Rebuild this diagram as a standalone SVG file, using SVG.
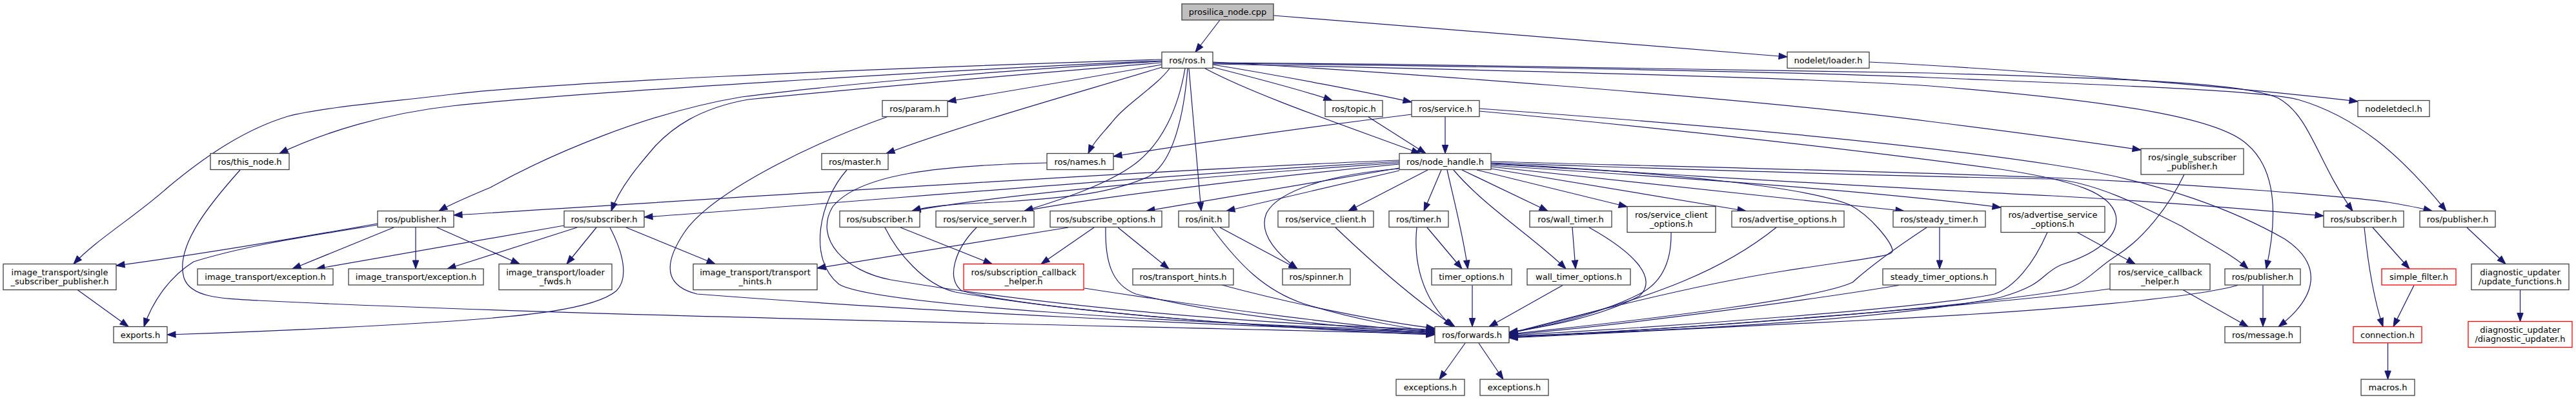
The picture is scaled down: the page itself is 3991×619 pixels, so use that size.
<svg xmlns="http://www.w3.org/2000/svg" width="3991" height="619" viewBox="0 0 3991 619">
<style>
.n rect{fill:#ffffff;stroke:#404040;stroke-width:1.3}
.n.red rect{stroke:#ff0000}
.n.root rect{fill:#bfbfbf}
text{font-family:"DejaVu Sans","Liberation Sans",sans-serif;font-size:13px;text-anchor:middle;fill:#000000}
#edges path{fill:none;stroke:#191970;stroke-width:1.2;marker-end:url(#a)}
</style>
<defs>
<marker id="a" markerUnits="userSpaceOnUse" markerWidth="14" markerHeight="10" viewBox="0 0 14 10" refX="13" refY="4.7" orient="auto" overflow="visible"><path d="M0,0 L13,4.7 L0,9.4 z" fill="#191970" stroke="#191970" stroke-width="1"/></marker>
</defs>
<rect width="3991" height="619" fill="#ffffff"/>
<g id="edges">
<path d="M1890,31 L1852,80.5"/>
<path d="M1973,24 C2200,42 2550,70 2769,88"/>
<path d="M2896,96 C3100,106 3450,133 3653,157"/>
<path d="M1800,94 C1500,107 900,142 700,164 C600,175 500,205 433,237.5"/>
<path d="M1800,92 C1300,108 850,128 700,146 C600,158 500,166 446,180 C380,200 320,240 260,290 C210,335 150,370 114,408.5"/>
<path d="M1800,95 C1600,105 1300,130 1149,150 C1000,175 850,240 760,290 C725,305 700,315 680,326.5"/>
<path d="M1800,97 C1650,110 1400,130 1159,154 C1080,168 1040,200 1016,225 C990,255 960,290 947,326.5"/>
<path d="M1800,100 C1700,118 1550,143 1468,157"/>
<path d="M1800,104 C1700,135 1500,190 1373,237.5"/>
<path d="M1812,106 C1790,135 1745,160 1722,190 C1705,210 1693,222 1686,237.5"/>
<path d="M1836,106 C1825,170 1800,220 1763,250 C1720,285 1640,310 1587,326.5"/>
<path d="M1840,106 C1835,170 1820,250 1780,273 C1720,300 1650,306 1560,312 C1480,316 1440,318 1413,326.5"/>
<path d="M1842,106 L1861,326.5"/>
<path d="M1867,106 C1950,150 2100,200 2200,237.5"/>
<path d="M1879,104 C1950,122 2020,140 2064,155.5"/>
<path d="M1879,100 C1990,118 2120,143 2187,158"/>
<path d="M1879,96 C2100,108 2700,150 2990,188 C3150,208 3250,222 3317,232"/>
<path d="M1879,97 C2300,100 2800,108 2990,113 C3300,122 3480,128 3530,152 C3580,180 3590,250 3645,326.5"/>
<path d="M1879,98 C2300,102 2800,112 2990,120 C3300,133 3500,140 3560,154 C3650,180 3720,240 3790,326.5"/>
<path d="M1879,99 C2300,108 2800,120 2990,133 C3300,158 3440,185 3481,223 C3525,260 3530,330 3511,416"/>
<path d="M2187,177 C2000,200 1850,222 1725,242"/>
<path d="M2239,181 L2239,237.5"/>
<path d="M2120,181 L2209,237.5"/>
<path d="M2292,168 C2600,190 2950,220 3180,255 C3350,280 3470,330 3540,370 C3600,410 3590,460 3530,505.5"/>
<path d="M2292,172 C2600,200 2900,235 3100,262 C3220,280 3270,300 3278,333 C3285,370 3240,395 3193,410 C3160,425 3170,440 3100,460 C2900,500 2500,515 2338,520"/>
<path d="M2168,248 C1800,262 1000,315 703,333"/>
<path d="M2168,250 C1800,270 1300,315 998,336"/>
<path d="M2168,252 C1900,270 1550,300 1413,326.5"/>
<path d="M2168,254 C1950,275 1700,305 1587,326.5"/>
<path d="M2168,260 L1776,326.5"/>
<path d="M2168,264 L1900,326.5"/>
<path d="M2168,261 C2060,270 1980,295 1962,330 C1950,360 1975,390 2010,416"/>
<path d="M2212,263 L2089,326.5"/>
<path d="M2233,263 L2206,326.5"/>
<path d="M2242,263 C2255,320 2268,370 2274,416"/>
<path d="M2252,263 C2300,320 2380,370 2426,416"/>
<path d="M2265,263 L2398,326.5"/>
<path d="M2288,263 L2521,320"/>
<path d="M2310,261 L2705,326.5"/>
<path d="M2310,258 L2950,326.5"/>
<path d="M2310,253 C2600,268 2800,290 2866,317 C2900,335 2930,375 2932,387 C2935,397 2900,398 2760,420 C2600,445 2400,500 2338,516"/>
<path d="M2310,250 C2600,258 2900,264 3180,275 C3400,285 3650,305 3700,313 C3730,318 3750,322 3768,326.5"/>
<path d="M2310,252 C2600,262 2900,272 3180,277 C3250,282 3330,325 3380,350 C3420,375 3460,395 3483,416"/>
<path d="M2310,254 C2600,270 2900,290 3180,303 C3350,312 3500,325 3600,334"/>
<path d="M2310,256 C2600,275 2900,295 3100,321"/>
<path d="M372,263 C330,310 270,380 285,430 C295,460 340,462 400,465 C900,490 1800,505 2223,517"/>
<path d="M1374,181 C1250,225 1100,300 1060,360 C1020,420 1040,445 1080,455 C1400,480 1900,505 2223,514"/>
<path d="M1312,263 C1270,310 1250,400 1300,440 C1350,470 1800,500 2223,512"/>
<path d="M1622,252 C1450,256 1330,270 1290,320 C1260,370 1310,420 1380,433 C1600,470 1900,500 2223,510"/>
<path d="M1371,352 C1390,390 1430,440 1480,452 C1700,490 2000,508 2223,516"/>
<path d="M1513,352 C1480,385 1465,430 1490,450 C1600,480 2000,510 2223,518"/>
<path d="M1713,352 C1712,400 1720,440 1760,455 C1900,490 2100,508 2223,516"/>
<path d="M1680,446 C1900,480 2100,505 2223,514"/>
<path d="M1893,441 C2000,470 2150,500 2223,508"/>
<path d="M1877,352 C1920,410 1960,450 2020,470 C2100,495 2180,508 2223,513"/>
<path d="M2069,352 C2130,410 2200,470 2254,505.5"/>
<path d="M2195,352 C2190,400 2200,460 2250,505.5"/>
<path d="M2281,441.5 L2281,505.5"/>
<path d="M2421,441.5 L2307,505.5"/>
<path d="M2462,352 C2530,390 2570,430 2540,458 C2480,490 2400,505 2338,514"/>
<path d="M2589,359.5 C2590,410 2570,440 2540,455 C2480,485 2400,505 2338,515"/>
<path d="M2752,352 C2680,410 2580,460 2338,516"/>
<path d="M2985,352 C2950,375 2900,410 2870,437 C2820,460 2600,490 2338,517"/>
<path d="M2942,441.5 C2800,465 2500,505 2338,518"/>
<path d="M3172,359.5 C3150,410 3120,445 3090,455 C3000,475 2600,505 2338,519"/>
<path d="M3384,270 C3360,320 3320,370 3280,395 C3240,420 3230,445 3180,452 C3000,480 2600,510 2338,521"/>
<path d="M3269,447 C3100,470 2600,510 2338,522"/>
<path d="M3467,441.5 C3400,460 3200,480 2900,495 C2600,510 2400,520 2338,523"/>
<path d="M2270,531 L2230,587"/>
<path d="M2291,531 L2329,587"/>
<path d="M585,346 C450,370 300,395 180,411"/>
<path d="M585,348 C480,365 380,380 300,405 C260,430 235,470 223,505.5"/>
<path d="M610,352 L453,416"/>
<path d="M644,352 L644,416"/>
<path d="M677,352 L805,408.5"/>
<path d="M874,349 L490,416"/>
<path d="M894,352 L693,416"/>
<path d="M924,352 L878,408.5"/>
<path d="M970,352 L1108,408.5"/>
<path d="M945,352 C965,390 975,430 955,450 C920,480 800,490 700,497 C500,510 350,515 259,518"/>
<path d="M120,448.5 L199,505.5"/>
<path d="M1655,352 L1266,415"/>
<path d="M1695,352 L1613,408.5"/>
<path d="M1732,352 L1811,416"/>
<path d="M1395,352 L1537,408.5"/>
<path d="M1890,352 L2010,416"/>
<path d="M2211,352 L2265,416"/>
<path d="M2436,352 L2441,416"/>
<path d="M3005,352 L3005,416"/>
<path d="M3218,359.5 L3308,408.5"/>
<path d="M3382,448.5 L3483,505.5"/>
<path d="M3506,441.5 L3506,505.5"/>
<path d="M3663,352 C3670,420 3680,470 3692,505.5"/>
<path d="M3676,352 L3733,416"/>
<path d="M3740,441.5 L3708,505.5"/>
<path d="M3699.5,531 L3699.5,587"/>
<path d="M3822,352 L3882,408.5"/>
<path d="M3904.5,448.5 L3904.5,497.5"/>
</g>
<g id="n1" class="n root"><rect x="1831" y="6" width="142" height="25"/><text x="1902" y="23">prosilica_node.cpp</text></g>
<g id="n2" class="n"><rect x="1800" y="80.5" width="79" height="25"/><text x="1839.5" y="97.5">ros/ros.h</text></g>
<g id="n3" class="n"><rect x="2769" y="80.5" width="127" height="25"/><text x="2832.5" y="97.5">nodelet/loader.h</text></g>
<g id="n4" class="n"><rect x="1367" y="155.5" width="101" height="25"/><text x="1417.5" y="172.5">ros/param.h</text></g>
<g id="n5" class="n"><rect x="2053" y="155.5" width="89" height="25"/><text x="2097.5" y="172.5">ros/topic.h</text></g>
<g id="n6" class="n"><rect x="2187" y="155.5" width="105" height="25"/><text x="2239.5" y="172.5">ros/service.h</text></g>
<g id="n7" class="n"><rect x="3653" y="155.5" width="111" height="25"/><text x="3708.5" y="172.5">nodeletdecl.h</text></g>
<g id="n8" class="n"><rect x="326" y="237.5" width="122" height="25"/><text x="387" y="254.5">ros/this_node.h</text></g>
<g id="n9" class="n"><rect x="1273" y="237.5" width="103" height="25"/><text x="1324.5" y="254.5">ros/master.h</text></g>
<g id="n10" class="n"><rect x="1622" y="237.5" width="103" height="25"/><text x="1673.5" y="254.5">ros/names.h</text></g>
<g id="n11" class="n"><rect x="2168" y="237.5" width="142" height="25"/><text x="2239" y="254.5">ros/node_handle.h</text></g>
<g id="n12" class="n"><rect x="3317" y="230" width="159" height="40"/><text x="3396.5" y="247.5">ros/single_subscriber</text><text x="3396.5" y="261.5">_publisher.h</text></g>
<g id="n13" class="n"><rect x="585" y="326.5" width="118" height="25"/><text x="644" y="343.5">ros/publisher.h</text></g>
<g id="n14" class="n"><rect x="874" y="326.5" width="124" height="25"/><text x="936" y="343.5">ros/subscriber.h</text></g>
<g id="n15" class="n"><rect x="1301" y="326.5" width="124" height="25"/><text x="1363" y="343.5">ros/subscriber.h</text></g>
<g id="n16" class="n"><rect x="1450" y="326.5" width="152" height="25"/><text x="1526" y="343.5">ros/service_server.h</text></g>
<g id="n17" class="n"><rect x="1627" y="326.5" width="173" height="25"/><text x="1713.5" y="343.5">ros/subscribe_options.h</text></g>
<g id="n18" class="n"><rect x="1826" y="326.5" width="78" height="25"/><text x="1865" y="343.5">ros/init.h</text></g>
<g id="n19" class="n"><rect x="1980" y="326.5" width="148" height="25"/><text x="2054" y="343.5">ros/service_client.h</text></g>
<g id="n20" class="n"><rect x="2152" y="326.5" width="92" height="25"/><text x="2198" y="343.5">ros/timer.h</text></g>
<g id="n21" class="n"><rect x="2370" y="326.5" width="127" height="25"/><text x="2433.5" y="343.5">ros/wall_timer.h</text></g>
<g id="n22" class="n"><rect x="2521" y="319.5" width="137" height="40"/><text x="2589.5" y="337">ros/service_client</text><text x="2589.5" y="351">_options.h</text></g>
<g id="n23" class="n"><rect x="2683" y="326.5" width="174" height="25"/><text x="2770" y="343.5">ros/advertise_options.h</text></g>
<g id="n24" class="n"><rect x="2933" y="326.5" width="143" height="25"/><text x="3004.5" y="343.5">ros/steady_timer.h</text></g>
<g id="n25" class="n"><rect x="3100" y="319.5" width="161" height="40"/><text x="3180.5" y="337">ros/advertise_service</text><text x="3180.5" y="351">_options.h</text></g>
<g id="n26" class="n"><rect x="3600" y="326.5" width="124" height="25"/><text x="3662" y="343.5">ros/subscriber.h</text></g>
<g id="n27" class="n"><rect x="3749" y="326.5" width="117" height="25"/><text x="3807.5" y="343.5">ros/publisher.h</text></g>
<g id="n28" class="n"><rect x="5" y="408.5" width="175" height="40"/><text x="92.5" y="426">image_transport/single</text><text x="92.5" y="440">_subscriber_publisher.h</text></g>
<g id="n29" class="n"><rect x="306" y="416" width="210" height="25"/><text x="411" y="433">image_transport/exception.h</text></g>
<g id="n30" class="n"><rect x="540" y="416" width="209" height="25"/><text x="644.5" y="433">image_transport/exception.h</text></g>
<g id="n31" class="n"><rect x="773" y="408.5" width="175" height="40"/><text x="860.5" y="426">image_transport/loader</text><text x="860.5" y="440">_fwds.h</text></g>
<g id="n32" class="n"><rect x="1074" y="408.5" width="192" height="40"/><text x="1170" y="426">image_transport/transport</text><text x="1170" y="440">_hints.h</text></g>
<g id="n33" class="n red"><rect x="1493" y="408.5" width="186" height="40"/><text x="1586" y="426">ros/subscription_callback</text><text x="1586" y="440">_helper.h</text></g>
<g id="n34" class="n"><rect x="1755" y="416" width="156" height="25"/><text x="1833" y="433">ros/transport_hints.h</text></g>
<g id="n35" class="n"><rect x="1987" y="416" width="105" height="25"/><text x="2039.5" y="433">ros/spinner.h</text></g>
<g id="n36" class="n"><rect x="2218" y="416" width="124" height="25"/><text x="2280" y="433">timer_options.h</text></g>
<g id="n37" class="n"><rect x="2366" y="416" width="160" height="25"/><text x="2446" y="433">wall_timer_options.h</text></g>
<g id="n38" class="n"><rect x="2917" y="416" width="175" height="25"/><text x="3004.5" y="433">steady_timer_options.h</text></g>
<g id="n39" class="n"><rect x="3269" y="408.5" width="155" height="40"/><text x="3346.5" y="426">ros/service_callback</text><text x="3346.5" y="440">_helper.h</text></g>
<g id="n40" class="n"><rect x="3447" y="416" width="117" height="25"/><text x="3505.5" y="433">ros/publisher.h</text></g>
<g id="n41" class="n red"><rect x="3690" y="416" width="115" height="25"/><text x="3747.5" y="433">simple_filter.h</text></g>
<g id="n42" class="n"><rect x="3829" y="408.5" width="151" height="40"/><text x="3904.5" y="426">diagnostic_updater</text><text x="3904.5" y="440">/update_functions.h</text></g>
<g id="n43" class="n"><rect x="176" y="505.5" width="83" height="25"/><text x="217.5" y="522.5">exports.h</text></g>
<g id="n44" class="n"><rect x="2223" y="505.5" width="115" height="25"/><text x="2280.5" y="522.5">ros/forwards.h</text></g>
<g id="n45" class="n"><rect x="3447" y="505.5" width="117" height="25"/><text x="3505.5" y="522.5">ros/message.h</text></g>
<g id="n46" class="n red"><rect x="3646" y="505.5" width="106" height="25"/><text x="3699" y="522.5">connection.h</text></g>
<g id="n47" class="n red"><rect x="3824" y="497.5" width="161" height="40"/><text x="3904.5" y="515">diagnostic_updater</text><text x="3904.5" y="529">/diagnostic_updater.h</text></g>
<g id="n48" class="n"><rect x="2163" y="587" width="106" height="25"/><text x="2216" y="604">exceptions.h</text></g>
<g id="n49" class="n"><rect x="2293" y="587" width="106" height="25"/><text x="2346" y="604">exceptions.h</text></g>
<g id="n50" class="n"><rect x="3658" y="587" width="83" height="25"/><text x="3699.5" y="604">macros.h</text></g>
</svg>
